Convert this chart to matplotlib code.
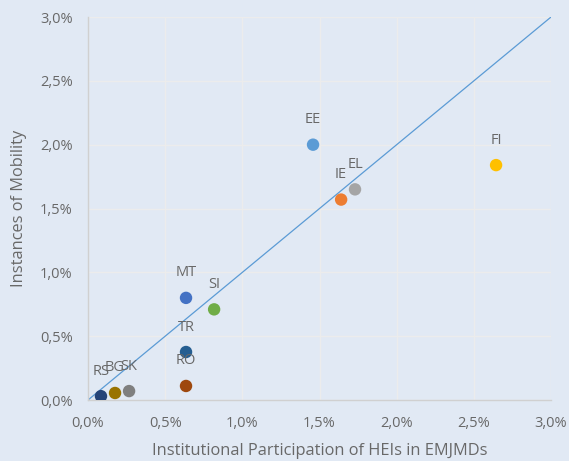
import matplotlib
matplotlib.use("Agg")
import matplotlib.pyplot as plt
from matplotlib.ticker import FuncFormatter, MultipleLocator

countries = ["RS", "BG", "SK", "RO", "TR", "MT", "SI", "EE", "IE", "EL", "FI"]
participation = [0.084, 0.175, 0.266, 0.635, 0.635, 0.635, 0.817, 1.458, 1.64, 1.73, 2.644]
mobility = [0.03, 0.055, 0.07, 0.11, 0.376, 0.80, 0.71, 2.00, 1.57, 1.65, 1.84]
colors = ["#264478", "#997300", "#7F7F7F", "#9E480E", "#255E91", "#4472C4",
          "#70AD47", "#5B9BD5", "#ED7D31", "#A5A5A5", "#FFC000"]
diag = [0.0, 3.0]

plt.rcParams['font.family'] = ['Open Sans', 'DejaVu Sans']
bg = "#E1E9F4"
txt = "#686868"

fig = plt.figure(figsize=(5.69, 4.61), dpi=100)
fig.patch.set_facecolor(bg)
ax = fig.add_axes([0.1547, 0.1323, 0.8137, 0.8308])
ax.set_facecolor(bg)

ax.plot(diag, diag, color="#5B9BD5", lw=0.9, zorder=2)
ax.scatter(participation, mobility, s=80, c=colors, zorder=3, linewidths=0)
for name, x, y in zip(countries, participation, mobility):
    ax.annotate(name, (x, y), xytext=(0, 18), textcoords="offset points",
                ha="center", va="center", fontsize=10.5, color=txt, zorder=4)

ax.set_xlim(0, 3)
ax.set_ylim(0, 3)
ax.xaxis.set_major_locator(MultipleLocator(0.5))
ax.yaxis.set_major_locator(MultipleLocator(0.5))
fmt = FuncFormatter(lambda v, p: f"{v:.1f}%".replace(".", ","))
ax.xaxis.set_major_formatter(fmt)
ax.yaxis.set_major_formatter(fmt)
ax.grid(True, color="#ECECEC", lw=1.0, zorder=0)
ax.set_axisbelow(True)
for s in ["top", "right"]:
    ax.spines[s].set_visible(False)
for s in ["left", "bottom"]:
    ax.spines[s].set_color("#D0D0D0")
    ax.spines[s].set_linewidth(1.0)
ax.tick_params(axis="x", length=0, labelsize=10.5, labelcolor=txt, pad=11.5)
ax.tick_params(axis="y", length=0, labelsize=10.5, labelcolor=txt, pad=11)
ax.set_xlabel("Institutional Participation of HEIs in EMJMDs", fontsize=11.8, color=txt, labelpad=9)
ax.set_ylabel("Instances of Mobility", fontsize=11.8, color=txt, labelpad=9)

fig.savefig("out.png", dpi=100, facecolor=bg)
